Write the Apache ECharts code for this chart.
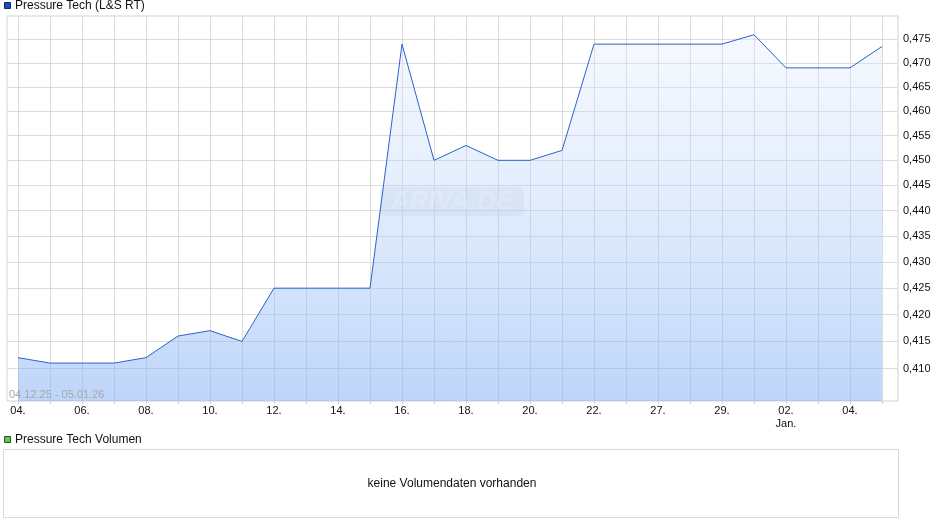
<!DOCTYPE html>
<html><head><meta charset="utf-8">
<script src="https://cdn.jsdelivr.net/npm/echarts@6/dist/echarts.min.js"></script>
<style>html,body{margin:0;padding:0;background:#fff}#c{width:940px;height:526px}</style>
</head><body><div id="c"></div>
<script>
const categories = ['04.','05.','06.','07.','08.','09.','10.','11.','12.','13.','14.','15.','16.','17.','18.','19.','20.','21.','22.','23.','27.','28.','29.','30.','02.','03.','04.','05.'];
const prices = [0.412,0.411,0.411,0.411,0.412,0.416,0.417,0.415,0.425,0.425,0.425,0.425,0.474,0.450,0.453,0.450,0.450,0.452,0.474,0.474,0.474,0.474,0.474,0.476,0.469,0.469,0.469,0.4735];
const yTicks = [0.410,0.415,0.420,0.425,0.430,0.435,0.440,0.445,0.450,0.455,0.460,0.465,0.470,0.475];
const seriesName = 'Pressure Tech (L&S RT)';
const volumeName = 'Pressure Tech Volumen';
const rangeText = '04.12.25 - 05.01.26';
const noVolumeText = 'keine Volumendaten vorhanden';

const idx = categories.map((c,i)=>i);
const evenIdx = idx.filter(i=>i%2===0);
const chart = echarts.init(document.getElementById('c'));
const FONT = 'Liberation Sans, Arial, sans-serif';
chart.setOption({
  animation:false,
  textStyle:{fontFamily:FONT},
  grid:{left:7,right:42,top:16,height:385,show:true,borderColor:'#d2d2d2',borderWidth:1,containLabel:false},
  xAxis:{type:'value',min:-0.344,max:27.5,
    axisLine:{show:false},
    axisTick:{show:true,length:3,lineStyle:{color:'#d0d0d0'},customValues:idx},
    splitLine:{show:true,lineStyle:{color:'#dcdcdc',width:1}},
    axisLabel:{customValues:evenIdx,margin:3,fontSize:11,color:'#111',lineHeight:13,fontFamily:FONT,
      formatter:v=>{const i=Math.round(v);return categories[i]+(i===24?'\nJan.':'');}}},
  yAxis:{type:'log',position:'right',min:0.40409,max:0.4800,logBase:10,
    axisLine:{show:false},
    axisTick:{show:false,customValues:yTicks},
    splitLine:{show:true,lineStyle:{color:'#dcdcdc',width:1}},
    axisLabel:{customValues:yTicks,margin:5,fontSize:11,color:'#111',fontFamily:FONT,
      formatter:v=>v.toFixed(3).replace('.',','),showMinLabel:true,showMaxLabel:true}},
  graphic:[
    {type:'rect',shape:{x:4.5,y:2.5,width:6,height:6},style:{fill:'#1c4fb5',stroke:'#0b2a66',lineWidth:1},z:10},
    {type:'text',x:15,y:6,style:{text:seriesName,fill:'#111',font:'12px '+FONT,verticalAlign:'middle'},z:10},
    {type:'rect',shape:{x:380,y:187,width:144,height:29,r:5},style:{fill:'rgba(185,190,205,0.22)'},z:1,silent:true},
    {type:'text',x:452,y:202,style:{text:'ARIVA.DE',fill:'rgba(255,255,255,0.55)',font:'italic bold 26px '+FONT,align:'center',verticalAlign:'middle'},z:1,silent:true},
    {type:'text',x:9,y:395,style:{text:rangeText,fill:'#a8a8a8',font:'11px '+FONT,verticalAlign:'middle'},z:10},
    {type:'rect',shape:{x:4.5,y:436.5,width:6,height:6},style:{fill:'#5cc85c',stroke:'#1d5a1d',lineWidth:1},z:10},
    {type:'text',x:15,y:440,style:{text:volumeName,fill:'#111',font:'12px '+FONT,verticalAlign:'middle'},z:10},
    {type:'rect',shape:{x:3.5,y:449.5,width:895,height:68},style:{fill:'#fff',stroke:'#d8d8d8',lineWidth:1},z:5},
    {type:'text',x:452,y:484,style:{text:noVolumeText,fill:'#111',font:'12px '+FONT,align:'center',verticalAlign:'middle'},z:10}
  ],
  series:[{name:seriesName,type:'line',symbol:'none',
    data:prices.map((v,i)=>[i,v]),
    lineStyle:{color:'#2a62c9',width:1},
    itemStyle:{color:'#1c4fb5'},
    areaStyle:{origin:'start',opacity:1,color:new echarts.graphic.LinearGradient(0,0,0,1,[
      {offset:0,color:'rgba(225,235,252,0.3)'},
      {offset:1,color:'rgba(125,172,245,0.5)'}])}
  }]
});
</script></body></html>
